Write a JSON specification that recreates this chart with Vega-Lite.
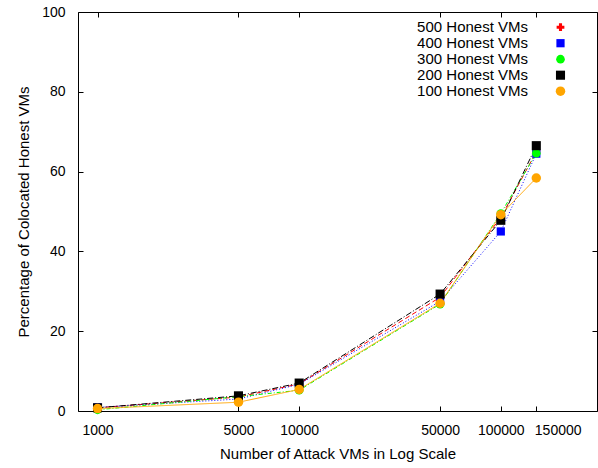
{
  "$schema": "https://vega.github.io/schema/vega-lite/v6.json",
  "autosize": {"type": "none"},
  "padding": {"left": 78, "top": 12, "right": 1, "bottom": 57},
  "width": 519,
  "height": 399,
  "background": "white",
  "config": {
    "view": {"stroke": "black", "strokeWidth": 1},
    "font": "Liberation Sans",
    "axis": {
      "labelFont": "Liberation Sans",
      "labelFontSize": 14,
      "labelColor": "black",
      "titleFont": "Liberation Sans",
      "titleFontSize": 15,
      "titleFontWeight": "normal",
      "titleColor": "black",
      "domainColor": "black",
      "tickColor": "black",
      "grid": false
    },
    "legend": {"labelFont": "Liberation Sans", "labelFontSize": 15, "labelColor": "black"}
  },
  "data": {
    "values": [
      {"series": "500 Honest VMs", "vms": 1000, "pct": 0.8},
      {"series": "500 Honest VMs", "vms": 5000, "pct": 3.5},
      {"series": "500 Honest VMs", "vms": 10000, "pct": 6.8},
      {"series": "500 Honest VMs", "vms": 50000, "pct": 28.5},
      {"series": "500 Honest VMs", "vms": 100000, "pct": 48.5},
      {"series": "500 Honest VMs", "vms": 150000, "pct": 65.0},
      {"series": "400 Honest VMs", "vms": 1000, "pct": 0.9},
      {"series": "400 Honest VMs", "vms": 5000, "pct": 3.0},
      {"series": "400 Honest VMs", "vms": 10000, "pct": 6.7},
      {"series": "400 Honest VMs", "vms": 50000, "pct": 27.5},
      {"series": "400 Honest VMs", "vms": 100000, "pct": 45.0},
      {"series": "400 Honest VMs", "vms": 150000, "pct": 64.5},
      {"series": "300 Honest VMs", "vms": 1000, "pct": 0.3},
      {"series": "300 Honest VMs", "vms": 5000, "pct": 3.6},
      {"series": "300 Honest VMs", "vms": 10000, "pct": 5.2},
      {"series": "300 Honest VMs", "vms": 50000, "pct": 26.8},
      {"series": "300 Honest VMs", "vms": 100000, "pct": 49.5},
      {"series": "300 Honest VMs", "vms": 150000, "pct": 64.6},
      {"series": "200 Honest VMs", "vms": 1000, "pct": 0.8},
      {"series": "200 Honest VMs", "vms": 5000, "pct": 3.8},
      {"series": "200 Honest VMs", "vms": 10000, "pct": 7.0},
      {"series": "200 Honest VMs", "vms": 50000, "pct": 29.3},
      {"series": "200 Honest VMs", "vms": 100000, "pct": 47.8},
      {"series": "200 Honest VMs", "vms": 150000, "pct": 66.5},
      {"series": "100 Honest VMs", "vms": 1000, "pct": 0.6},
      {"series": "100 Honest VMs", "vms": 5000, "pct": 2.2},
      {"series": "100 Honest VMs", "vms": 10000, "pct": 5.4},
      {"series": "100 Honest VMs", "vms": 50000, "pct": 27.0},
      {"series": "100 Honest VMs", "vms": 100000, "pct": 49.2},
      {"series": "100 Honest VMs", "vms": 150000, "pct": 58.4}
    ]
  },
  "layer": [
    {
      "mark": {"type": "line", "strokeWidth": 1, "clip": true},
      "encoding": {
        "x": {"field": "vms", "type": "quantitative",
          "scale": {"type": "log", "domain": [800, 300000], "nice": false},
          "axis": {"orient": "bottom", "title": "Number of Attack VMs in Log Scale",
            "values": [1000, 5000, 10000, 50000, 100000, 150000], "format": "d",
            "tickSize": -5, "labelPadding": 17, "titlePadding": 9, "domain": false,
            "labelFlush": false, "labelOverlap": false,
            "labelAlign": {"condition": {"test": "datum.value == 150000", "value": "left"}, "value": "center"},
            "labelOffset": {"condition": {"test": "datum.value == 150000", "value": -2}, "value": 0}}},
        "y": {"field": "pct", "type": "quantitative",
          "scale": {"domain": [0, 100], "nice": false},
          "axis": {"orient": "left", "title": "Percentage of Colocated Honest VMs",
            "values": [0, 20, 40, 60, 80, 100], "tickSize": -5, "labelPadding": 18,
            "titlePadding": 10, "domain": false, "labelFlush": false, "labelOverlap": false}},
        "color": {"field": "series", "type": "nominal",
          "scale": {"domain": ["500 Honest VMs", "400 Honest VMs", "300 Honest VMs", "200 Honest VMs", "100 Honest VMs"],
            "range": ["#ff0000", "#0000ff", "#00ff00", "#000000", "#ffa500"]},
          "legend": {"orient": "none", "legendX": 475, "legendY": 7.7, "title": null,
            "labelAlign": "right", "labelOffset": -40, "rowPadding": -0.75, "padding": 0,
            "symbolStrokeWidth": 0}},
        "strokeDash": {"field": "series", "type": "nominal",
          "scale": {"domain": ["100 Honest VMs", "200 Honest VMs", "300 Honest VMs", "400 Honest VMs", "500 Honest VMs"],
            "range": [[1, 0], [6, 2, 1, 2], [4, 2, 1, 2], [1, 2], [5, 3]]},
          "legend": null},
        "order": {"field": "vms", "type": "quantitative"}
      }
    },
    {
      "mark": {"type": "point", "filled": true, "opacity": 1, "strokeWidth": 0},
      "encoding": {
        "x": {"field": "vms", "type": "quantitative",
          "axis": {"orient": "top", "title": null, "labels": false,
            "values": [1000, 5000, 10000, 50000, 100000, 150000], "tickSize": -5, "domain": false}},
        "y": {"field": "pct", "type": "quantitative",
          "axis": {"orient": "right", "title": null, "labels": false,
            "values": [0, 20, 40, 60, 80, 100], "tickSize": -5, "domain": false}},
        "color": {"field": "series", "type": "nominal",
          "legend": {"orient": "none", "legendX": 475, "legendY": 7.7, "title": null,
            "labelAlign": "right", "labelOffset": -40, "rowPadding": -0.75, "padding": 0,
            "symbolStrokeWidth": 0}},
        "shape": {"field": "series", "type": "nominal",
          "scale": {"domain": ["500 Honest VMs", "400 Honest VMs", "300 Honest VMs", "200 Honest VMs", "100 Honest VMs"],
            "range": ["cross", "square", "circle", "square", "circle"]},
          "legend": {"orient": "none", "legendX": 475, "legendY": 7.7, "title": null,
            "labelAlign": "right", "labelOffset": -40, "rowPadding": -0.75, "padding": 0,
            "symbolStrokeWidth": 0}},
        "size": {"field": "series", "type": "nominal",
          "scale": {"domain": ["500 Honest VMs", "400 Honest VMs", "300 Honest VMs", "200 Honest VMs", "100 Honest VMs"],
            "range": [60, 90, 80, 60, 40]},
          "legend": {"orient": "none", "legendX": 475, "legendY": 7.7, "title": null,
            "labelAlign": "right", "labelOffset": -40, "rowPadding": -0.75, "padding": 0,
            "symbolStrokeWidth": 0}}
      }
    }
  ],
  "resolve": {"axis": {"x": "independent", "y": "independent"}}
}
